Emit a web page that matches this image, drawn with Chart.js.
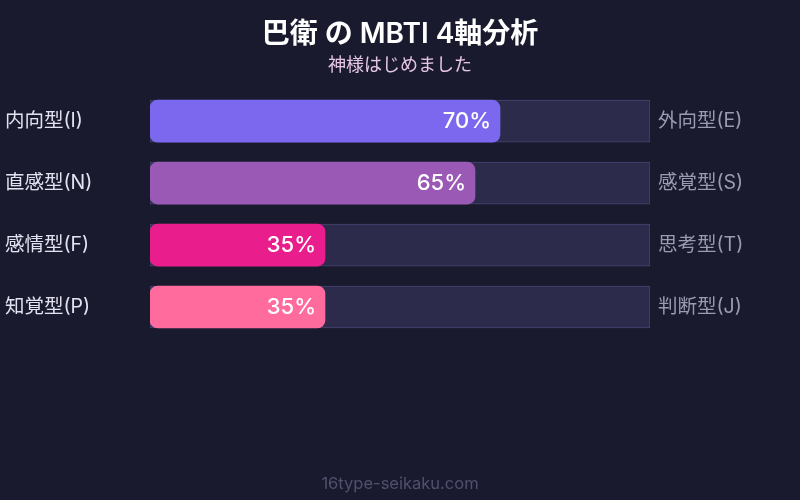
<!DOCTYPE html>
<html lang="ja">
<head>
    <meta charset="UTF-8">
    <title>巴衛 の MBTI 4軸分析</title>
    <script src="https://cdn.jsdelivr.net/npm/chart.js"></script>
    <style>
        html, body { margin: 0; padding: 0; background: #1a1a2e; }
        #wrap { position: relative; width: 800px; height: 500px; }
    </style>
</head>
<body>
<div id="wrap"><canvas id="mbtiChart" width="800" height="500"></canvas></div>
<script>
// axis labels (left side / right side) and the percentage for the left side
const leftLabels = ["内向型(I)", "直感型(N)", "感情型(F)", "知覚型(P)"];
const rightLabels = ["外向型(E)", "感覚型(S)", "思考型(T)", "判断型(J)"];
const scores = [70, 65, 35, 35];
const trackValues = [100, 100, 100, 100];
const barColors = ["#7b68ee", "#9b59b6", "#e91e8c", "#ff6b9d"];

const FONT = "Inter, 'Noto Sans CJK JP', sans-serif";

// draws the side labels, the % text and the footer
const sideLabels = {
    id: "sideLabels",
    afterDatasetsDraw(chart) {
        const ctx = chart.ctx;
        const meta = chart.getDatasetMeta(1);
        ctx.save();
        ctx.textBaseline = "middle";
        meta.data.forEach((bar, i) => {
            const y = bar.y;
            // left label
            ctx.font = "19.5px " + FONT;
            ctx.fillStyle = "#e2e2f0";
            ctx.textAlign = "left";
            ctx.fillText(leftLabels[i], 5, y);
            // right label
            ctx.fillStyle = "#9a9ab2";
            ctx.fillText(rightLabels[i], chart.chartArea.right + 8, y);
            // value inside bar
            ctx.font = "500 22px " + FONT;
            ctx.fillStyle = "#ffffff";
            ctx.textAlign = "right";
            ctx.fillText(scores[i] + "%", bar.x - 9, y);
        });
        // footer
        ctx.font = "16.5px " + FONT;
        ctx.fillStyle = "#50506f";
        ctx.textAlign = "center";
        ctx.fillText("16type-seikaku.com", chart.width / 2, 484);
        ctx.restore();
    }
};

new Chart(document.getElementById("mbtiChart"), {
    type: "bar",
    data: {
        labels: leftLabels,
        datasets: [
            {
                data: trackValues,
                backgroundColor: "#2d2b4b",
                borderColor: "#464470",
                borderWidth: 1,
                borderSkipped: false,
                barThickness: 42,
                grouped: false,
                order: 2
            },
            {
                data: scores,
                backgroundColor: barColors,
                borderWidth: 0,
                borderRadius: 8,
                borderSkipped: false,
                barThickness: 42,
                grouped: false,
                order: 1
            }
        ]
    },
    plugins: [sideLabels],
    options: {
        indexAxis: "y",
        responsive: false,
        animation: false,
        layout: { padding: { left: 150, right: 150, bottom: 162, top: 0 } },
        scales: {
            x: { display: false, min: 0, max: 100 },
            y: { display: false }
        },
        plugins: {
            legend: { display: false },
            tooltip: { enabled: false },
            title: {
                display: true,
                text: "巴衛 の MBTI 4軸分析",
                color: "#ffffff",
                font: { family: FONT, size: 28, weight: 600 },
                padding: { top: 18, bottom: 2 }
            },
            subtitle: {
                display: true,
                text: "神様はじめました",
                color: "#e6c6e6",
                font: { family: FONT, size: 18 },
                padding: { top: 1, bottom: 14 }
            }
        }
    }
});
</script>
</body>
</html>
